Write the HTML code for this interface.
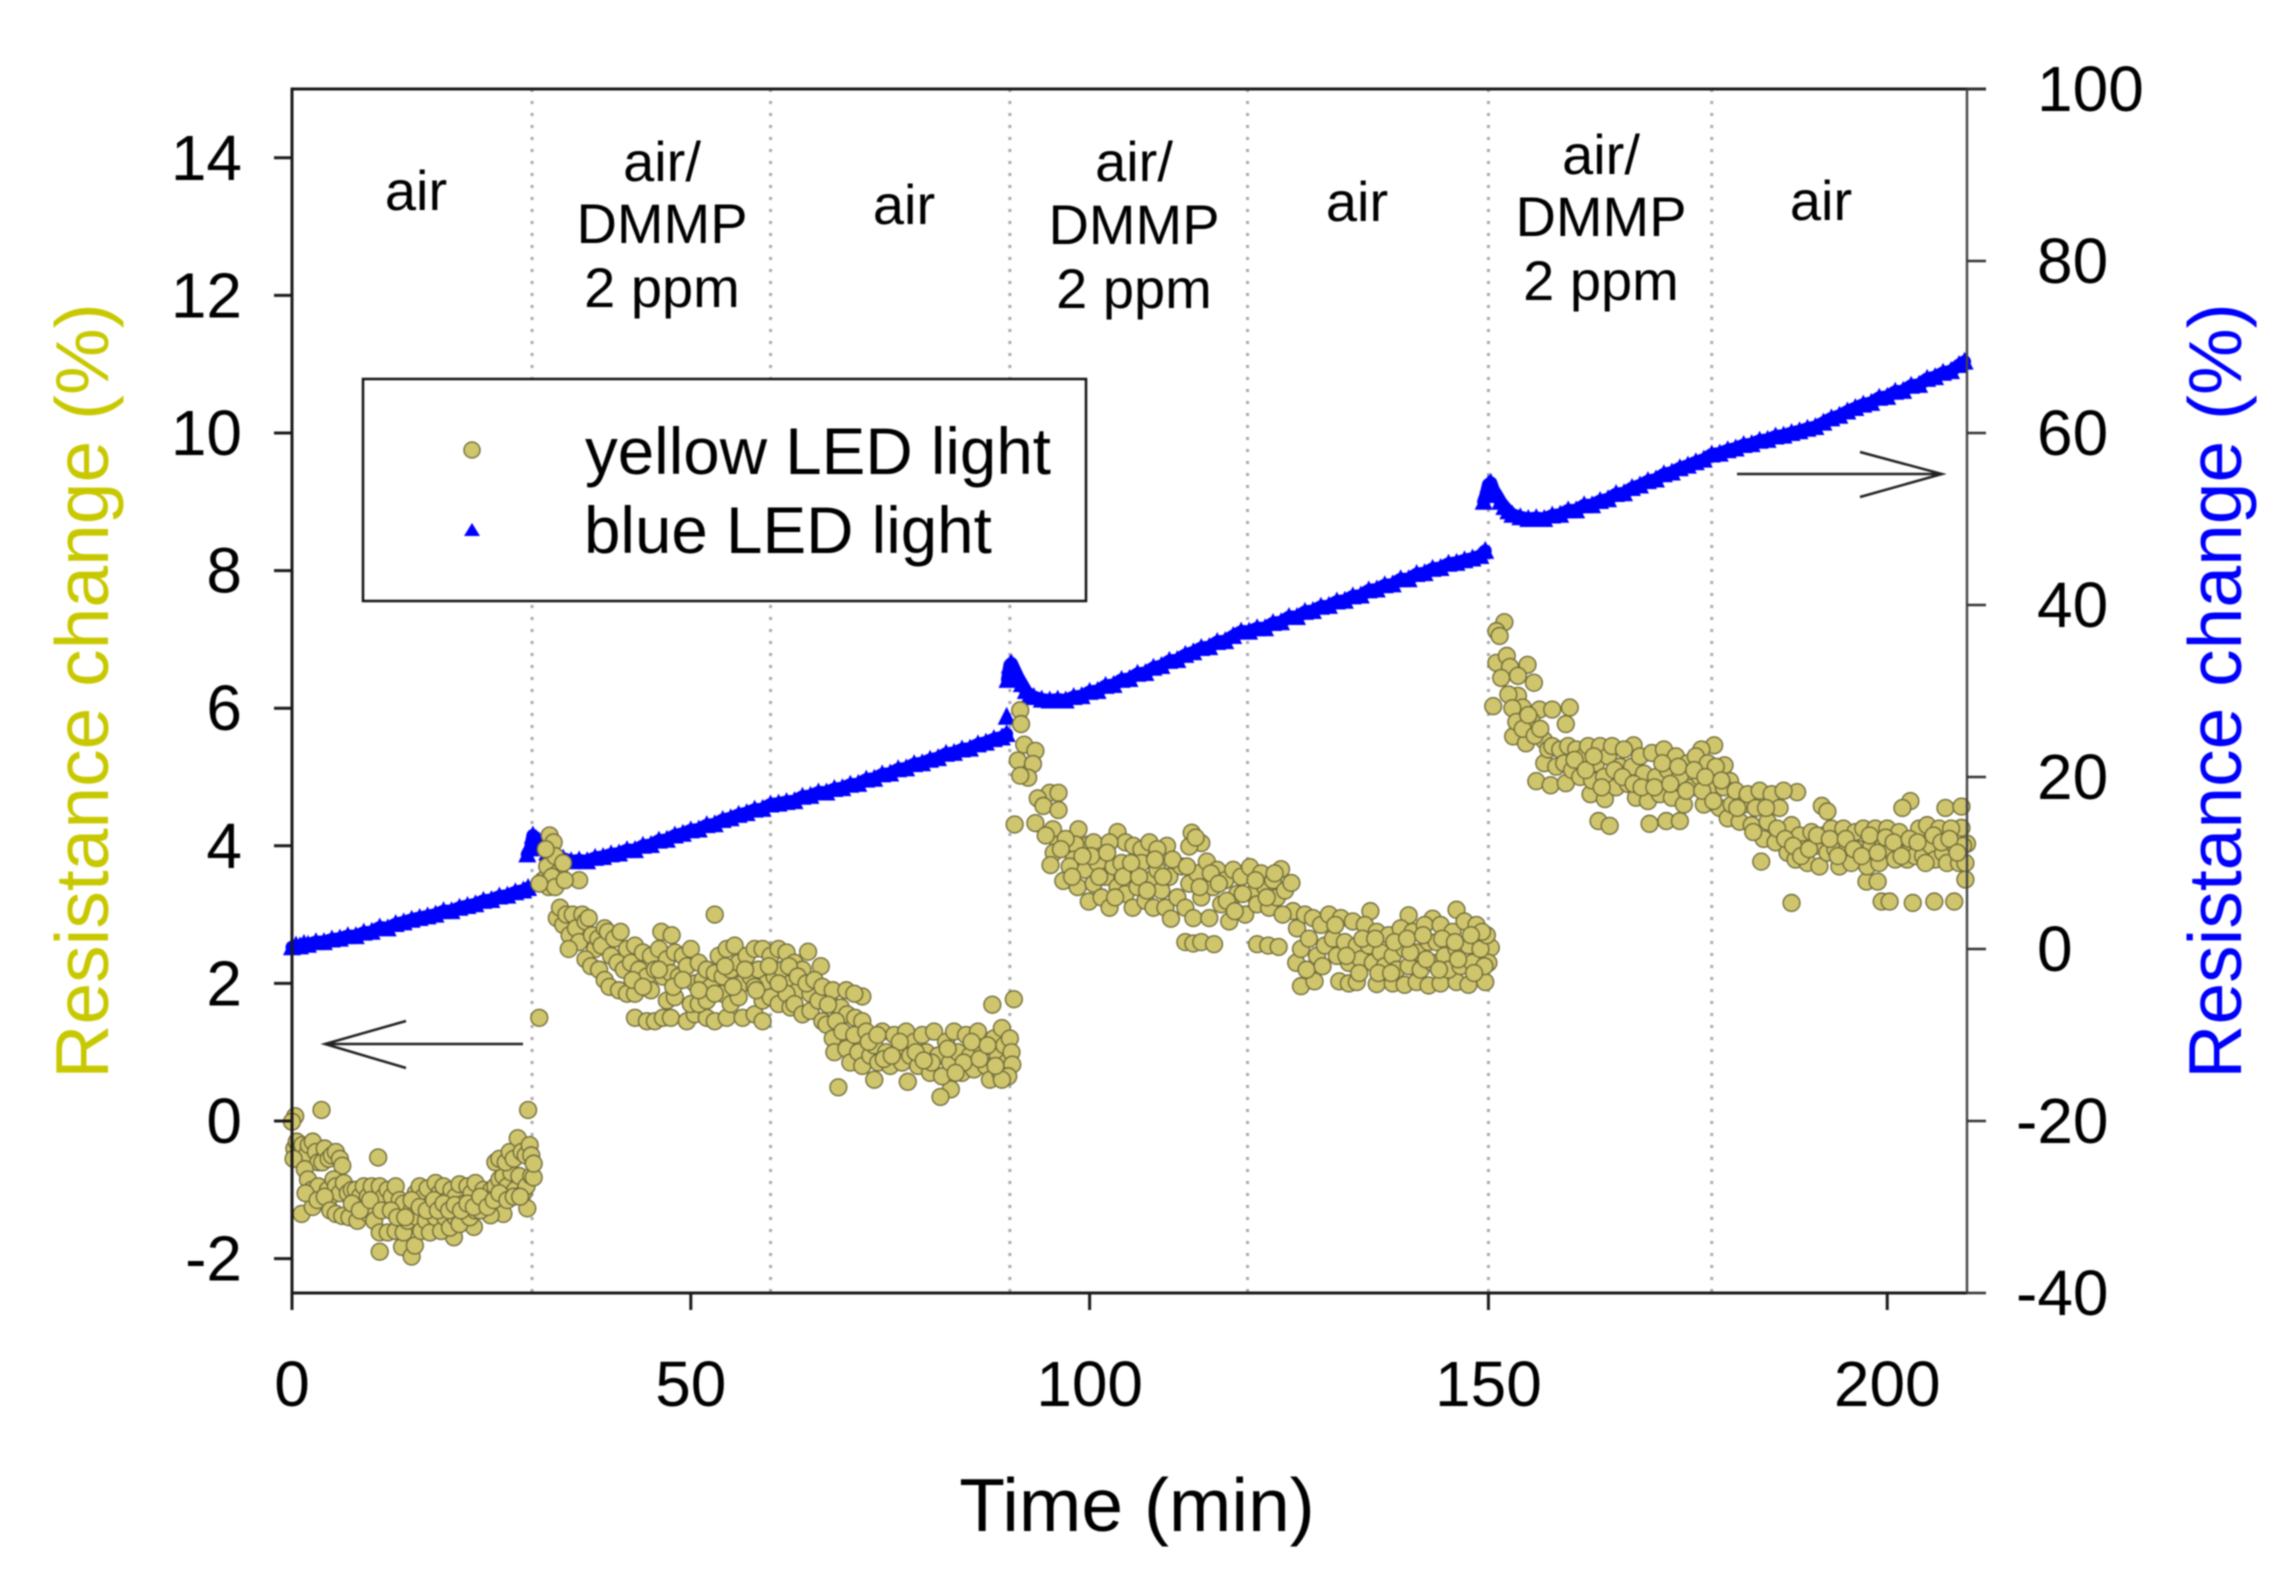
<!DOCTYPE html>
<html lang="en">
<head>
<meta charset="utf-8">
<title>Resistance change under LED light</title>
<style>
html,body{margin:0;padding:0;background:#fff;width:2293px;height:1589px;overflow:hidden}
svg{display:block;filter:blur(0.9px)}
text{font-family:"Liberation Sans",sans-serif;fill:#000}
</style>
</head>
<body>
<svg id="chart" xmlns="http://www.w3.org/2000/svg" width="2293" height="1589" viewBox="0 0 2293 1589">
<g id="grid"></g>
<g id="blue"></g>
<g id="yellow"></g>
<g id="axes"></g>

<text transform="translate(108,691) rotate(-90)" text-anchor="middle" font-size="75" style="fill:#c8c800">Resistance change (%)</text>
<text transform="translate(2241,691) rotate(-90)" text-anchor="middle" font-size="75" style="fill:#0000ff">Resistance change (%)</text>
<text x="1137" y="1531" text-anchor="middle" font-size="75">Time (min)</text>

<g font-size="56" text-anchor="middle">
<text x="416" y="210">air</text>
<text x="662" y="181">air/<tspan x="662" y="243">DMMP</tspan><tspan x="662" y="307">2 ppm</tspan></text>
<text x="904" y="224">air</text>
<text x="1134" y="181">air/<tspan x="1134" y="244">DMMP</tspan><tspan x="1134" y="308">2 ppm</tspan></text>
<text x="1357" y="221">air</text>
<text x="1601" y="174">air/<tspan x="1601" y="236">DMMP</tspan><tspan x="1601" y="300">2 ppm</tspan></text>
<text x="1821" y="220">air</text>
</g>

<g>
<rect x="363" y="379" width="723" height="222" fill="#fff" stroke="#111" stroke-width="2.5"/>
<circle cx="472" cy="450" r="8" fill="#cfc56c" stroke="#77733f" stroke-width="1.5"/>
<polygon points="472,523 480,536 464,536" fill="#0000ff"/>
<text x="585" y="474" font-size="65.5">yellow LED light</text>
<text x="584" y="553" font-size="65.5">blue LED light</text>
</g>

<g fill="none" stroke="#222" stroke-width="2.5">
<path d="M523 1044H325M406 1021L325 1044L406 1068"/>
</g>
<g fill="none" stroke="#222" stroke-width="2.5">
<path d="M1737 474H1942M1860 452L1942 474L1860 497"/>
</g>
</svg>
<script>
const xTicks = [0, 50, 100, 150, 200];
const leftTicks = [-2, 0, 2, 4, 6, 8, 10, 12, 14];
const rightTicks = [-40, -20, 0, 20, 40, 60, 80, 100];
const phaseTimes = [30.1, 60, 90, 119.8, 150, 178];

const blueSeries = [
[0,.2],[.5,.4],[1,.3],[1.5,.6],[2,.5],[3,.8],[4,.8],[5,1.1],[6,1.2],[7,1.5],[8,1.5],[9,1.9],[10,2],[11,2.5],[12,2.4],[13,2.9],[14,3.1],[15,3.4],[16,3.6],[17,3.8],[18,4],[19,4.4],[20,4.4],[21,4.8],[22,5],[23,5.2],[24,5.6],[25,5.7],[26,6.1],[27,6.2],[28,6.6],[29,6.8],[29.6,7.1],
[29.5,11],[29.9,11.7],[30.2,13.2],[30.5,12.8],[31,12.5],[31.5,12],[32,11.2],[32.5,10.9],[33,10.6],[34,10.5],[35,10.2],[36,10.3],[37,10.2],[38,10.6],[39,10.7],[40,11],[41,11.1],[42,11.5],[43,11.5],[44,12],[45,12.1],[46,12.6],[47,12.7],[48,13.2],[49,13.4],[50,13.8],[51,13.9],[52,14.4],[53,14.5],[54,15],[55,15.2],[56,15.6],[57,15.8],[58,16.2],[59,16.3],[60,16.8],[61,16.9],[62,17.1],[63,17.2],[64,17.7],[65,17.8],[66,18.2],[67,18.2],[68,18.6],[69,18.7],[70,19.1],[71,19.2],[72,19.7],[73,19.8],[74,20.3],[75,20.4],[76,20.9],[77,21],[78,21.5],[79,21.6],[80,22],[81,22.2],[82,22.7],[83,22.8],[84,23.2],[85,23.3],[86,23.8],[87,24],[88,24.4],[89,24.6],[89.6,25],
[89.6,27],[89.7,31.3],[90,33],[90.2,33.2],[90.6,32.4],[91,31.6],[91.5,30.8],[92,30],[92.5,29.5],[93,29.3],[94,29],[95,28.9],[96,29],[97,28.9],[98,29.3],[99,29.4],[100,29.9],[101,30],[102,30.6],[103,30.7],[104,31.3],[105,31.4],[106,32],[107,32.1],[108,32.7],[109,32.9],[110,33.5],[111,33.6],[112,34.2],[113,34.5],[114,35],[115,35.1],[116,35.7],[117,35.8],[118,36.4],[119,36.9],[120,36.9],[121,37.3],[122,37.3],[123,37.9],[124,38],[125,38.6],[126,38.6],[127,39.2],[128,39.3],[129,39.8],[130,39.9],[131,40.4],[132,40.5],[133,41],[134,41.1],[135,41.7],[136,41.8],[137,42.3],[138,42.4],[139,43],[140,43],[141,43.6],[142,43.7],[143,44.2],[144,44.3],[145,44.8],[146,44.9],[147,45.2],[148,45.4],[149,45.7],[149.6,46.3],
[149.4,52],[149.7,52.8],[150,54],[150.3,54.2],[150.6,53.4],[151,52.8],[151.5,52],[152,51.4],[152.5,50.9],[153,50.5],[154,50.2],[155,50],[156,50.1],[157,50],[158,50.4],[159,50.5],[160,51],[161,51],[162,51.6],[163,51.6],[164,52.1],[165,52.3],[166,52.9],[167,53],[168,53.6],[169,53.9],[170,54.4],[171,54.6],[172,55.2],[173,55.4],[174,55.9],[175,56.2],[176,56.6],[177,56.9],[178,57.5],[179,57.6],[180,58],[181,58.2],[182,58.6],[183,58.7],[184,59.1],[185,59.2],[186,59.6],[187,59.7],[188,60],[189,60.2],[190,60.5],[191,60.7],[192,61.2],[193,61.7],[194,62],[195,62.5],[196,62.9],[197,63.3],[198,63.5],[199,64.1],[200,64.2],[201,64.8],[202,64.9],[203,65.5],[204,65.6],[205,66.3],[206,66.5],[207,67],[208,67.2],[209,67.9],[209.7,68.3]
];

const yellowSeries = [
[.4,.07],[0,-.01],[3.7,.16],[29.6,.16],[10.8,-.53],[11,-1.9],[13.8,-1.83],[15,-1.97],[15.4,-1.81],[1.2,-1.35],[2.6,-1.25],[26.5,-1.35],[24.9,-1.37],[29.5,-1.27],[20.3,-1.69],[22.8,-1.54],
[.3,-.4],[.6,-.3],[.9,-.5],[1.3,-.35],[1.8,-.5],[2.1,-.35],[2.6,-.3],[3,-.45],[3.3,-.6],[3.8,-.6],[4.1,-.4],[4.6,-.55],[5,-.5],[5.5,-.45],[6,-.55],[6.3,-.65],[.2,-.55],[1.6,-.7],[2,-.85],[2.5,-1],[3.3,-.95],[4.5,-1],[4.8,-1.1],[5.2,-.85],[5.5,-.95],[6,-1.05],[6.5,-.9],[7,-1.05],[7.5,-1],[8,-1],[8.5,-1.1],[9,-.95],[9.5,-1.1],[10,-.95],[10.5,-1.2],[11,-.95],[11.5,-1.1],[12,-1],[12.5,-1.1],[13,-.95],[13.5,-1.15],[14,-1.2],
[1.7,-1.05],[3.2,-1.15],[4.1,-1.1],[4.8,-1.3],[5.5,-1.35],[6.3,-1.38],[7.2,-1.4],[8.2,-1.45],[9,-1.3],[9.6,-1.35],[10.3,-1.45],[11,-1.62],[12,-1.62],[13,-1.6],[14,-1.62],[14.5,-1.45],[15,-1.3],[15.5,-1.05],[16,-.95],[16.5,-1.1],[17,-.98],[17.5,-1.2],[18,-.9],[18.5,-1.05],[19,-.95],[19.5,-1.15],[20,-1],[20.5,-1.1],[21,-.92],[21.5,-1.2],[22,-.95],[22.5,-1.05],[23,-.9],[23.5,-1.15],[24,-1],[24.5,-1.1],[25,-1],[15.7,-1.4],[16.2,-1.6],[16.8,-1.45],[17.3,-1.62],[18,-1.4],[18.7,-1.6],[19.2,-1.4],[19.8,-1.55],[20.5,-1.4],[21,-1.5],[21.7,-1.3],[22.3,-1.4],[23,-1.3],[23.6,-1.3],[24.2,-1.2],
[25.5,-.95],[26,-.85],[26.5,-.8],[27,-.95],[27.5,-.75],[28,-1],[28.5,-.8],[29,-1.05],[29.4,-.95],[30,-.8],[30.3,-.82],[25.5,-.6],[26,-.55],[26.8,-.6],[27.3,-.45],[27.8,-.55],[28.3,-.25],[28.8,-.45],[29.3,-.5],[29.8,-.35],[30,-.5],[30.3,-.62],
[7.5,-1.2],[8.5,-1.3],[9.8,-1.15],[11.2,-1.3],[12.4,-1.3],[13.2,-1.4],[14.2,-1.4],[15,-1.15],[16,-1.25],[16.9,-1.3],[17.8,-1.15],[18.3,-1.3],[19,-1.2],[19.7,-1.3],[20.4,-1.22],[21.2,-1.3],[22,-1.2],[22.8,-1.25],[23.6,-1.1],[24.5,-1.25],[25.3,-1.15],[26,-1.05],[27,-1.15],[27.8,-1.1],[28.6,-1.1],
[31,1.5],[31.5,3.5],[32,3.7],[32.3,4.15],[32.8,4.05],[33,3.85],[33.3,3.6],[31.8,3.95],[32.2,3.4],[33.7,3.55],[34,3.75],[32.6,3.55],[33,3.4],[31,3.45],[36,3.5],[34.2,3.5],
[33.2,2.95],[33.6,3.1],[34,2.85],[34.4,3],[34.8,2.7],[35.2,3],[35.6,2.8],[36,2.6],[36.4,3],[36.8,2.9],[37.2,2.95],[37.6,2.7],[38,2.5],[38.4,2.65],[38.8,2.55],[39.2,2.8],[39.6,2.75],[40,2.4],[40.4,2.65],[40.8,2.3],[41.2,2.75],[41.6,2.2],[34.7,2.5],[36.8,2.35],[37.5,2.25],[38.5,2.2],[39.2,2.05],[39.8,1.95],[41,1.9],[42,1.85],[43,1.85],
[42,2.5],[42.5,2.3],[43,2.55],[43.5,2.2],[44,2.45],[44.5,2.1],[45,2.4],[45.5,2.2],[46,2.5],[46.5,2.1],[47,2.35],[47.5,2.15],[48,2.45],[48.5,2.1],[49,2.4],[49.5,2.25],[50,2.5],[50.5,2],[51,2.3],[51.5,2.05],[52,2.2],[52.5,1.95],[53,2.15],[53.5,2.4],[54,2.1],[54.5,2.5],[55,2.2],[55.5,2.55],[56,2.3],[56.5,2],[57,2.4],[57.5,2.1],[58,2.5],[58.5,2.2],[59,2.5],[59.5,2],[60,2.4],[60.5,2.1],[61,2.5],[61.5,2.2],[62,2.45],[62.5,2],[63,2.3],[63.5,1.9],[64,2.2],[64.7,2.46],[65,1.85],[66.3,2.25],
[43,1.5],[44.5,1.45],[45.5,1.45],[46.5,1.5],[47.5,1.5],[49.5,1.45],[50.5,1.55],[52,1.5],[53,1.45],[54.5,1.5],[56.5,1.5],[58,1.55],[59,1.45],[45,1.9],[47,1.75],[48,1.8],[50,1.7],[51,1.7],[52,1.75],[54,1.85],[55,1.7],[56,1.8],[58,1.95],[59,1.75],[60,1.8],[61,1.7],[62,1.85],[62.5,1.65],[63,1.7],[64,1.55],[65,1.6],[66,1.75],[66.5,1.45],[67,1.4],[67.5,1.7],
[42.7,2.05],[44,1.95],[46,2.2],[47.8,1.95],[49,2.05],[51,1.9],[53,1.85],[54.3,2.25],[55.3,1.95],[56.8,2.2],[58.2,1.9],[59.8,2.25],[61,2],[62.3,2.25],[63.4,2.1],[64.5,2],[65.5,2.05],[66.5,1.95],[67.8,1.9],[68.8,1.65],[69.6,1.55],[70.6,1.5],[71.5,1.45],
[46.3,2.75],[47.6,2.7],[53,3],[68.5,.49],[73,.6],[77.2,.57],[82.6,.46],[81.3,.35],[69.5,1.9],[71.5,1.81],[67.2,1.69],[90.5,1.77],[87.8,1.69],[70.5,1.85],[68.2,1.45],[67.8,1.2],[68,1],
[69,1.3],[69.5,1.05],[70,.85],[70.5,1.25],[71,1],[71.5,.8],[72,1.3],[72.5,.95],[73,1.1],[73.5,.85],[74,1.3],[74.5,1],[75,.8],[75.5,1.25],[76,1],[76.5,.85],[77,1.3],[77.5,.95],[78,1.15],[78.5,.8],[79,1.25],[79.5,1],[80,.7],[80.5,1.3],[81,.95],[81.5,.65],[82,1.15],[82.5,.85],[83,1.3],[83.5,1],[84,.7],[84.5,1.25],[85,.95],[85.5,.75],[86,1.3],[86.5,1.05],[87,.8],[87.5,.6],[88,1.2],[88.5,.95],[88.8,.7],[89,1.35],[89.3,1.1],[89.6,.85],[90,1.2],[90.2,1],[90.3,.82],[89.8,.65],[89,.6],
[72.3,1.15],[74.2,.9],[76.2,1.15],[78.2,1],[80.2,.85],[82.2,1.05],[84.2,.85],[86.2,.9],[87.2,1.1],[88.2,.8],[73.4,1.25],[75.2,.95],[79.2,.88],[83.2,.7],[85.2,1.15],
[91.3,5.97],[91.4,5.77],[91.8,5.47],[93.2,5.38],[91,5.24],[92.9,5.19],[92.3,4.99],[91.3,5.02],[95,4.77],[96.1,4.77],[93.5,4.69],[94.2,4.58],[96.1,4.52],[90.6,4.31],[93.2,4.33],[95.4,4.24],[98.6,4.24],[99.9,4.02],[96.1,4.02],[98.2,4.02],[103.5,4.2],[104.5,4.05],[109.7,4],[112.8,4.19],[114,4.04],[112.5,3.99],[113.3,4.12],
[94.5,4.15],[95.5,3.9],[97,4.1],[98,3.8],[100.5,4.05],[101.5,3.85],[102.5,4.05],[105.5,4],[106.5,3.95],[107.5,4.05],[108.5,3.95],
[95.1,3.72],[96.7,3.49],[97.5,3.7],[98.5,3.4],[99.5,3.65],[99.9,3.19],[100.5,3.45],[101,3.75],[101.5,3.25],[102,3.55],[102.5,3.1],[103,3.7],[103.5,3.4],[104,3.75],[104.5,3.3],[105,3.6],[105.4,3.1],[106,3.4],[106.5,3.75],[107,3.2],[107.5,3.5],[108,3.1],[108.5,3.65],[109,3.35],[109.5,3.1],[110,3.55],[110.2,2.94],[111,3.25],[111.5,3.7],[112,3.1],[112.5,3.45],[113,2.95],[113.5,3.6],[114,3.25],[114.7,3.77],[115,2.95],[115.5,3.4],[116,3.65],[116.5,3.15],[117,3.5],[117.5,2.9],[118,3.65],[118.5,3.3],[119,3.55],[119.5,3],[120.1,3.69],[120.5,3.3],[121,3.15],[121.5,3.6],[122,3.4],[122.5,3.1],[123,3.5],[123.5,3.25],[124,3.66],[124.5,3.35],[125.3,3.46],[125.5,3.05],
[100.2,3.85],[102.2,3.9],[104.2,3.55],[106.2,3.55],[108.2,3.8],[110.4,3.8],[112.2,3.7],[113.8,3.4],[115.2,3.6],[116.2,3.45],[117.2,3.2],[118.2,3.05],[119.2,3.3],[120.8,3.5],[122.2,3.25],[123.2,3.6],[124.2,3],[96.4,3.95],[97.8,3.55],[99.1,3.85],[101.2,3.55],[103.2,3.25],[105.2,3.75],[107.2,3.35],[109.2,3.55],
[112,2.6],[113,2.58],[114,2.6],[115.6,2.57],[121,2.57],[122.4,2.55],[123.7,2.53],[125.9,2.3],[126.5,1.96],[128.2,2.03],[131.3,2.03],[132.5,2],[133.5,2.02],[136,1.99],[138,2],[139.5,1.98],[141,2.02],[142.5,1.97],[144,2],[146,2.02],[147.5,1.98],[149.6,2.02],[150.3,2.52],[150,2.3],[146,3.07],[135.2,3.05],[140,2.99],[143,2.94],[148.3,2.74],
[126,2.8],[126.5,2.5],[127,3],[127.5,2.65],[128,2.95],[128.5,2.4],[129,2.85],[129.5,2.55],[130,3],[130.5,2.65],[131,2.4],[131.5,2.95],[132,2.6],[132.5,2.3],[133,2.9],[133.5,2.55],[134,2.35],[134.5,2.85],[135,2.55],[135.5,2.3],[136,2.75],[136.5,2.45],[137,2.25],[137.5,2.7],[138,2.4],[138.5,2.2],[139,2.8],[139.5,2.5],[140,2.25],[140.5,2.75],[141,2.45],[141.5,2.2],[142,2.85],[142.5,2.6],[143,2.3],[143.5,2.6],[144,2.85],[144.5,2.4],[145,2.2],[145.5,2.75],[146,2.5],[146.5,2.25],[147,2.9],[147.5,2.55],[148,2.3],[148.5,2.85],[149,2.5],[149.5,2.25],[149.8,2.7],
[127.2,2.2],[129.2,2.25],[130.8,2.85],[132.2,2.4],[134.2,2.65],[136.2,2.15],[138.2,2.6],[140.2,2.45],[142.2,2.35],[144.2,2.65],[146.2,2.35],[148.2,2.15],[149.2,2.75],[133.8,2.15],[135.8,2.65],[137.8,2.15],[139.8,2.65],[141.8,2.7],[143.8,2.2],[145.8,2.6],[147.8,2.7],
[152,7.25],[151,7.12],[151.4,7.05],[151,6.66],[152.3,6.76],[152.7,6.6],[154.9,6.63],[151.6,6.44],[153.7,6.47],[155.7,6.37],[150.6,6.03],[153.7,6.18],[154.3,6.01],[156.4,5.98],[158,5.98],[160.2,6.01],[155.4,5.82],[159.7,5.77],[153.1,5.59],[154.7,5.49],[157,5.53],[156,4.94],[157.8,4.88],[159.7,4.91],[162.8,4.75],[164.6,4.68],[163.8,4.36],[165.2,4.29],[170.2,4.32],[172.3,4.36],[174,4.36],[178.3,5.46],[176.7,5.4],[168.2,5.46],[179.6,5.17],[180.3,4.94],[188.7,4.78],[191.8,4.58],[192.5,4.5],[202.9,4.65],[201.9,4.55],[207.3,4.55],[209.3,4.57],[188,3.17],[199.3,3.19],[200.3,3.19],[203.2,3.17],[205.9,3.19],[208.4,3.19],[184.2,3.77],[197.4,3.48],[198.8,3.48],[209.8,3.51],[210,4.03],[209.3,4.26],
[152.5,6.2],[153,6],[153.5,5.8],[154.3,5.7],[155,5.9],[155.8,5.6],[156.5,5.7],[157,5.2],[157.5,5.4],[158,5.45],[158.5,5.15],[159,5.4],[159.5,5.2],[160,5.45],[160.5,5.1],[161,5.4],[161.5,5],[162,5.3],[162.5,5.45],[163,4.95],[163.5,5.2],[164,5.45],[164.5,5],[165,5.3],[165.5,5.45],[166,4.85],[166.5,5.15],[167,5.4],[167.5,4.9],[168,5.15],[168.5,4.7],[169,5.3],[169.5,5.05],[170,4.65],[170.5,5.35],[171,5],[171.5,4.75],[172,5.4],[172.5,5.1],[173,4.7],[173.5,5.3],[174,5],[174.5,4.6],[175,5.2],[175.5,4.85],[176,5.3],[176.5,5],[177,4.6],[177.5,5.2],[178,4.85],[178.5,5.15],[179,4.55],[179.5,4.85],
[160.8,5.25],[162.2,5.1],[163.2,5.3],[164.2,4.85],[165.8,5.1],[166.8,5],[168.2,4.9],[169.2,4.85],[170.8,4.85],[171.8,5.2],[172.8,4.9],[173.8,5.15],[174.8,4.8],[175.8,5.1],[176.8,4.8],[177.2,5],[178.2,4.65],[179.2,4.95],
[180,4.4],[180.5,4.6],[181,4.8],[181.5,4.35],[182,4.6],[182.5,4.75],[183,4.3],[183.5,4.55],[184,4.8],[184.5,4.1],[185,4.35],[185.5,4.75],[186,4.05],[186.5,4.55],[187,4.8],[187.5,3.9],[188,4.3],[188.5,3.8],[189,4.15],[189.5,3.95],[190,3.75],[190.5,4.2],[191,4],[191.5,3.7],[192,4.15],[192.5,3.9],[193,4.25],[193.5,3.95],[194,3.7],[194.5,4.25],[195,4],[195.5,3.75],[196,4.2],[196.5,3.95],[197,4.25],[197.5,3.7],[198,4],[198.5,4.25],[199,3.75],[199.5,4],[200,4.25],[200.5,3.95],[201,3.8],[201.5,4.2],[202,3.95],[202.5,3.8],[203,4],[203.5,3.85],[204,4.25],[204.5,3.85],[205,4.3],[205.5,4],[206,3.8],[206.5,4.25],[207,3.9],[207.5,3.75],[208,4.25],[208.5,4],[209,3.75],[209.5,4],[209.8,3.75],
[181.2,4.55],[183.2,4.2],[184.8,4.55],[186.2,4.25],[187.2,4.1],[188.2,4],[189.2,3.85],[190.2,3.95],[191.2,4.15],[192.8,4.1],[193.8,3.85],[194.8,4.1],[195.8,3.95],[196.8,3.85],[197.8,4.15],[198.8,3.9],[199.8,4.12],[200.8,4.05],[201.8,3.85],[202.8,4.1],[203.8,4.05],[204.8,3.75],[205.8,4.15],[206.8,4.05],[207.8,4.1],[208.8,3.9]
];

const NS = 'http://www.w3.org/2000/svg';
const plotLeft = 292, plotRight = 1967, plotTop = 89, plotBottom = 1293;
const xMin = 0, xMax = 210, leftMin = -2.5, leftMax = 15, rightMin = -40, rightMax = 100;

function xPos(t) { return plotLeft + (t - xMin) / (xMax - xMin) * (plotRight - plotLeft); }
function yLeft(v) { return plotBottom - (v - leftMin) / (leftMax - leftMin) * (plotBottom - plotTop); }
function yRight(v) { return plotBottom - (v - rightMin) / (rightMax - rightMin) * (plotBottom - plotTop); }

function make(tag, parent, attrs) {
  const el = document.createElementNS(NS, tag);
  for (const k in attrs) el.setAttribute(k, attrs[k]);
  parent.appendChild(el);
  return el;
}

const gridLayer = document.getElementById('grid');
const blueLayer = document.getElementById('blue');
const yellowLayer = document.getElementById('yellow');
const axesLayer = document.getElementById('axes');

phaseTimes.forEach(function (t) {
  const line = make('line', gridLayer, { x1: xPos(t), x2: xPos(t), y1: plotTop, y2: plotBottom, stroke: '#a8a8a8', 'stroke-width': 3, 'stroke-dasharray': '3 9' });
  
  
});

let bandPath = '';
blueSeries.forEach(function (p, i) {
  const prev = blueSeries[i - 1];
  const joined = i > 0 && p[0] > prev[0] && Math.abs(p[1] - prev[1]) < 3;
  bandPath += (joined ? 'L' : 'M') + xPos(p[0]) + ' ' + yRight(p[1]);
});
const band = make('path', blueLayer, { d: bandPath, fill: 'none', stroke: '#0000ff', 'stroke-width': 13, 'stroke-linecap': 'round', 'stroke-linejoin': 'round' });



blueSeries.forEach(function (p) {
  const x = xPos(p[0]), y = yRight(p[1]);
  const tri = make('polygon', blueLayer, { points: x + ',' + (y - 10) + ' ' + (x + 9) + ',' + (y + 8) + ' ' + (x - 9) + ',' + (y + 8), fill: '#0000ff' });
  
  
});

yellowSeries.forEach(function (p) {
  const dot = make('circle', yellowLayer, { cx: xPos(p[0]), cy: yLeft(p[1]), r: 8.4, fill: '#cfc56c', stroke: '#6f6b3a', 'stroke-width': 1.4 });
  
  
});

const frame = make('path', axesLayer, { d: 'M' + plotLeft + ' ' + plotBottom + 'V' + plotTop + 'H' + (plotRight + 19) + 'M' + plotLeft + ' ' + plotBottom + 'H' + plotRight, fill: 'none', stroke: '#1a1a1a', 'stroke-width': 3 });


const rightLine = make('line', axesLayer, { x1: plotRight, x2: plotRight, y1: plotTop, y2: plotBottom, stroke: '#444', 'stroke-width': 2.4 });



xTicks.forEach(function (t) {
  const tick = make('line', axesLayer, { x1: xPos(t), x2: xPos(t), y1: plotBottom, y2: plotBottom + 17, stroke: '#1a1a1a', 'stroke-width': 3 });
  
  
  const label = make('text', axesLayer, { x: xPos(t), y: 1406, 'text-anchor': 'middle', 'font-size': 64 });
  label.textContent = String(t);
  
  
});

leftTicks.forEach(function (v) {
  const tick = make('line', axesLayer, { x1: plotLeft - 18, x2: plotLeft, y1: yLeft(v), y2: yLeft(v), stroke: '#1a1a1a', 'stroke-width': 3 });
  
  
  const label = make('text', axesLayer, { x: 242, y: yLeft(v) + 22, 'text-anchor': 'end', 'font-size': 64 });
  label.textContent = String(v);
  
  
});

rightTicks.forEach(function (v) {
  const tick = make('line', axesLayer, { x1: plotRight, x2: plotRight + 19, y1: yRight(v), y2: yRight(v), stroke: '#333', 'stroke-width': 2.4 });
  
  
  const label = make('text', axesLayer, { x: v < 0 ? 2016 : 2037, y: yRight(v) + 22, 'font-size': 64 });
  label.textContent = String(v);
  
  
});
</script>
</body>
</html>
